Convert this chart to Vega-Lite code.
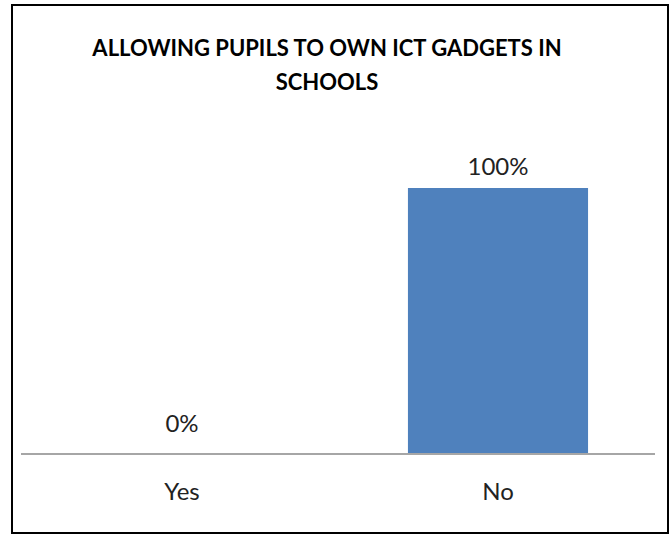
{
  "$schema": "https://vega.github.io/schema/vega-lite/v6.json",
  "width": 656,
  "height": 528,
  "autosize": {"type": "none"},
  "padding": {"left": 12, "top": 5, "right": 4, "bottom": 3},
  "background": "white",
  "config": {"view": {"stroke": "black", "strokeWidth": 2}, "font": "Lato"},
  "title": {
    "text": ["ALLOWING PUPILS TO OWN ICT GADGETS IN", "SCHOOLS"],
    "font": "Lato",
    "fontSize": 22,
    "fontWeight": "bold",
    "color": "#000000",
    "anchor": "middle",
    "baseline": "top",
    "offset": -90,
    "lineHeight": 34,
    "dx": -13
  },
  "data": {"values": [{"answer": "Yes", "share": 0}, {"answer": "No", "share": 1}]},
  "layer": [
    {
      "layer": [
        {
          "mark": {"type": "bar", "color": "#4F81BD"},
          "encoding": {
            "x": {
              "field": "answer",
              "type": "nominal",
              "sort": ["Yes", "No"],
              "scale": {"paddingInner": 0.43, "paddingOuter": 0.253},
              "axis": {
                "title": null,
                "domain": false,
                "ticks": false,
                "labelFontSize": 24,
                "labelColor": "#222222",
                "labelFont": "Lato",
                "labelPadding": 0,
                "offset": -53,
                "labelAngle": 0,
                "grid": false
              }
            },
            "y": {
              "field": "share",
              "type": "quantitative",
              "scale": {"domain": [-0.297, 1.688], "nice": false, "zero": false},
              "axis": null
            }
          }
        },
        {
          "transform": [{"filter": "datum.answer == 'No'"}],
          "mark": {"type": "text", "fontSize": 24, "color": "#222222", "baseline": "alphabetic", "dy": -13},
          "encoding": {
            "x": {"field": "answer", "type": "nominal", "sort": ["Yes", "No"]},
            "y": {"field": "share", "type": "quantitative"},
            "text": {"field": "share", "type": "quantitative", "format": ".0%"}
          }
        },
        {
          "transform": [{"filter": "datum.answer == 'Yes'"}],
          "mark": {"type": "text", "fontSize": 24, "color": "#222222", "baseline": "alphabetic", "dy": -22},
          "encoding": {
            "x": {"field": "answer", "type": "nominal", "sort": ["Yes", "No"]},
            "y": {"field": "share", "type": "quantitative"},
            "text": {"field": "share", "type": "quantitative", "format": ".0%"}
          }
        }
      ]
    },
    {
      "mark": {"type": "rule", "color": "#A6A6A6", "strokeWidth": 2},
      "encoding": {
        "x": {"datum": 0, "type": "quantitative", "scale": {"domain": [-0.0142, 1.0205], "nice": false, "zero": false}, "axis": null},
        "x2": {"datum": 1},
        "y": {"datum": 0, "type": "quantitative"}
      }
    }
  ],
  "resolve": {"scale": {"x": "independent"}}
}
